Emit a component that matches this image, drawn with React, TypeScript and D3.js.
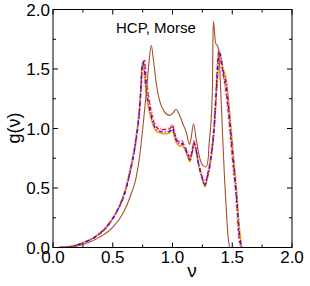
import React from "react";
import * as d3 from "d3";

const brownNu = [0.05, 0.15, 0.25, 0.39, 0.5, 0.584, 0.654, 0.696, 0.724, 0.752, 0.78, 0.8, 0.822, 0.84, 0.864, 0.89, 0.933, 0.975, 1.0, 1.03, 1.06, 1.086, 1.115, 1.142, 1.156, 1.176, 1.2, 1.226, 1.254, 1.282, 1.3, 1.305, 1.323, 1.335, 1.338, 1.343, 1.36, 1.379, 1.393, 1.407, 1.421, 1.435, 1.449, 1.463, 1.477];
const brownG = [0, 0.005, 0.025, 0.087, 0.17, 0.284, 0.45, 0.59, 0.76, 1.01, 1.29, 1.52, 1.7, 1.58, 1.38, 1.24, 1.14, 1.11, 1.126, 1.16, 1.11, 1.04, 0.97, 0.865, 0.92, 1.04, 0.9, 0.76, 0.69, 0.676, 0.76, 0.85, 1.07, 1.38, 1.74, 1.9, 1.72, 1.69, 1.55, 1.24, 0.9, 0.59, 0.34, 0.115, 0];

const clusterNu = [0.05, 0.15, 0.25, 0.35, 0.45, 0.5, 0.55, 0.6, 0.65, 0.68, 0.7, 0.72, 0.735, 0.745, 0.755, 0.765, 0.78, 0.8, 0.83, 0.86, 0.9, 0.95, 0.98, 1.0, 1.015, 1.04, 1.07, 1.08, 1.1, 1.125, 1.145, 1.165, 1.18, 1.195, 1.22, 1.25, 1.27, 1.29, 1.32, 1.35, 1.365, 1.38, 1.39, 1.4, 1.42, 1.45, 1.48, 1.505, 1.535, 1.56, 1.58];
const orangeG = [0, 0.008, 0.04, 0.09, 0.18, 0.25, 0.34, 0.47, 0.68, 0.83, 0.97, 1.13, 1.35, 1.53, 1.55, 1.45, 1.29, 1.17, 1.05, 0.98, 0.96, 0.955, 0.965, 0.99, 0.93, 0.87, 0.85, 0.86, 0.83, 0.77, 0.72, 0.79, 0.86, 0.82, 0.68, 0.57, 0.51, 0.57, 0.72, 1.0, 1.24, 1.46, 1.62, 1.63, 1.52, 1.41, 1.12, 0.84, 0.5, 0.17, 0];
const redG = [0, 0.008, 0.038, 0.085, 0.17, 0.24, 0.33, 0.45, 0.65, 0.8, 0.93, 1.1, 1.3, 1.48, 1.56, 1.57, 1.4, 1.26, 1.1, 1.02, 0.99, 0.99, 1.0, 1.03, 0.97, 0.9, 0.88, 0.89, 0.85, 0.8, 0.75, 0.82, 0.89, 0.84, 0.7, 0.59, 0.53, 0.6, 0.76, 1.05, 1.32, 1.6, 1.65, 1.6, 1.48, 1.3, 1.0, 0.72, 0.4, 0.06, 0];
const blueG = [0, 0.008, 0.039, 0.088, 0.175, 0.245, 0.335, 0.46, 0.66, 0.815, 0.95, 1.12, 1.33, 1.52, 1.56, 1.5, 1.33, 1.21, 1.07, 1.0, 0.975, 0.97, 0.98, 1.01, 0.95, 0.885, 0.865, 0.875, 0.84, 0.785, 0.735, 0.805, 0.875, 0.83, 0.69, 0.58, 0.52, 0.585, 0.74, 1.02, 1.28, 1.53, 1.64, 1.62, 1.5, 1.36, 1.06, 0.78, 0.45, 0.11, 0];
const pinkG = [0, 0.008, 0.038, 0.086, 0.172, 0.242, 0.332, 0.455, 0.655, 0.805, 0.935, 1.1, 1.29, 1.46, 1.55, 1.58, 1.42, 1.28, 1.12, 1.03, 1.0, 0.995, 1.005, 1.035, 0.98, 0.91, 0.885, 0.895, 0.86, 0.805, 0.755, 0.825, 0.895, 0.845, 0.705, 0.595, 0.535, 0.605, 0.765, 1.06, 1.33, 1.6, 1.66, 1.6, 1.47, 1.28, 0.98, 0.7, 0.38, 0.04, 0];

const xTicks = [0, 0.5, 1.0, 1.5, 2.0];
const yTicks = [0, 0.5, 1.0, 1.5, 2.0];
const minorTicks = [0.25, 0.75, 1.25, 1.75];

export default function App() {
  const W = 310, H = 286;
  const x = d3.scaleLinear().domain([0, 2]).range([53, 292]);
  const y = d3.scaleLinear().domain([0, 2]).range([247.5, 9.5]);
  const mk = (nu: number[], g: number[]) =>
    d3.line<number>().x((_, i) => x(nu[i])).y((d) => y(d)).curve(d3.curveMonotoneX)(g) || "";

  const series = [
    { nu: clusterNu, g: orangeG, color: "#ffa500", width: 1.5, dash: "" },
    { nu: clusterNu, g: pinkG, color: "#ff9aa8", width: 2.2, dash: "2,2" },
    { nu: clusterNu, g: redG, color: "#ff0000", width: 1.2, dash: "4,3" },
    { nu: clusterNu, g: blueG, color: "#2020ff", width: 1.4, dash: "4,2,1,2" },
    { nu: brownNu, g: brownG, color: "#a0522d", width: 1.1, dash: "" },
  ];
  const font = "'Liberation Sans', Arial, Helvetica, sans-serif";
  const x0 = 53, x1 = 292, y0 = 247.5, y1 = 9.5;
  return (
    <svg width={W} height={H} style={{ position: "absolute", left: 0, top: 0 }}>
      <defs>
        <clipPath id="clip">
          <rect x={x0} y={y1} width={x1 - x0} height={y0 - y1} />
        </clipPath>
      </defs>
      <rect x={0} y={0} width={W} height={H} fill="#fff" />
      <g clipPath="url(#clip)">
        {series.map((s, i) => (
          <path key={i} d={mk(s.nu, s.g)} fill="none" stroke={s.color} strokeWidth={s.width} strokeDasharray={s.dash || undefined} />
        ))}
      </g>
      <rect x={x0} y={y1} width={x1 - x0} height={y0 - y1} fill="none" stroke="#000" strokeWidth={1} />
      {xTicks.map((t) => (
        <g key={"xt" + t}>
          <line x1={x(t)} x2={x(t)} y1={y0} y2={y0 - 5} stroke="#000" />
          <line x1={x(t)} x2={x(t)} y1={y1} y2={y1 + 5} stroke="#000" />
          <text x={x(t)} y={262.5} fontSize={17} fontFamily={font} textAnchor="middle">{t.toFixed(1)}</text>
        </g>
      ))}
      {minorTicks.map((t) => (
        <g key={"mt" + t}>
          <line x1={x(t)} x2={x(t)} y1={y0} y2={y0 - 3} stroke="#000" />
          <line x1={x(t)} x2={x(t)} y1={y1} y2={y1 + 3} stroke="#000" />
          <line x1={x0} x2={x0 + 3} y1={y(t)} y2={y(t)} stroke="#000" />
          <line x1={x1} x2={x1 - 3} y1={y(t)} y2={y(t)} stroke="#000" />
        </g>
      ))}
      {yTicks.map((t) => (
        <g key={"yt" + t}>
          <line x1={x0} x2={x0 + 5} y1={y(t)} y2={y(t)} stroke="#000" />
          <line x1={x1} x2={x1 - 5} y1={y(t)} y2={y(t)} stroke="#000" />
          <text x={50} y={y(t) + 6} fontSize={17} fontFamily={font} textAnchor="end">{t.toFixed(1)}</text>
        </g>
      ))}
      <text x={192} y={277} fontSize={19} fontFamily={font} textAnchor="middle">ν</text>
      <text transform="translate(20,128) rotate(-90)" fontSize={18} fontFamily={font} textAnchor="middle">g(ν)</text>
      <text x={116} y={33} fontSize={15} fontFamily={font}>HCP, Morse</text>
    </svg>
  );
}
